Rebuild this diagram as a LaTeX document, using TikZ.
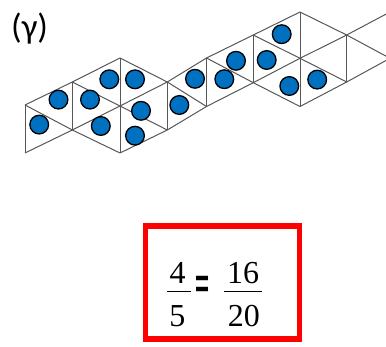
\documentclass[tikz,border=0pt]{standalone}
\usepackage{fontspec}
\setmainfont{Liberation Serif}
\newfontfamily\labelfont{Carlito}
\newfontfamily\signfont{Liberation Sans}
\usepackage{tikz}
\usetikzlibrary{positioning}
\definecolor{dotblue}{RGB}{0,112,192}
\definecolor{framered}{RGB}{255,0,0}

\begin{document}
\begin{tikzpicture}[
    x=1pt, y=-1pt,
    edge/.style={draw=black!66, line width=1pt, line join=round},
    counter/.style={circle, draw=black, line width=1.3pt, fill=dotblue, minimum size=18.7pt, inner sep=0pt},
    digit/.style={anchor=base, inner sep=0pt, font=\fontsize{32}{38}\selectfont},
    sign/.style={inner sep=0pt, font=\signfont\bfseries\fontsize{24}{28}\selectfont},
    bar/.style={line width=0.9pt},
    redframe/.style={draw=framered, line width=5.5pt}
]
\useasboundingbox (0,0) rectangle (386,347);
\clip (0,0) rectangle (386,347);

\foreach \n/\px/\py in {p0a/25/105, p0b/25/153,
    p1a/72.3/82, p1b/72.3/130,
    p2a/120/58, p2b/120/106, p2c/120/153,
    p3a/167.3/82, p3b/167.3/130,
    p4a/206.5/58, p4b/206.5/106.5,
    p5a/253.3/35, p5b/253.3/82.7,
    p6a/300/12, p6b/300/58.3, p6c/300/106.5,
    p7a/346.7/35, p7b/346.7/82,
    p8a/390/12, p8b/390/58.3}
  \coordinate (\n) at (\px,\py);

\draw[edge] (p0a) -- (p1a) -- (p2a) -- (p3a) -- (p4a) -- (p5a) -- (p6a) -- (p7a) -- (p8a);
\draw[edge] (p0b) -- (p1b) -- (p2c) -- (p3b) -- (p4b) -- (p5b) -- (p6c) -- (p7b) -- (p8b);
\draw[edge] (p0a) -- (p1b) -- (p2b) -- (p3b);
\draw[edge] (p1a) -- (p2b) -- (p3a) -- (p4b);
\draw[edge] (p4a) -- (p5b) -- (p6b) -- (p7a) -- (p8b);
\draw[edge] (p5a) -- (p6b) -- (p7b);
\foreach \t/\b in {p0a/p0b, p1a/p1b, p2a/p2c, p3a/p3b, p4a/p4b, p5a/p5b, p6a/p6c, p7a/p7b}
  \draw[edge] (\t) -- (\b);

\foreach \px/\py [count=\i] in {39.2/124.6, 58.5/99.6, 90/99.6, 109.3/79.3, 135/79.3,
    100.8/126, 141/110.8, 135/135.7, 179.3/105, 195/78.8, 224.3/79.2,
    236/60.8, 266.7/60, 281.7/34.2, 289.3/86, 317.2/79.6}
  \node[counter] (c\i) at (\px,\py) {};

\node[font=\labelfont\fontsize{35}{42}\selectfont, anchor=base west, inner sep=0pt] (tag) at (11,38.5) {(γ)};

\draw[redframe] (145.5,226) rectangle (299.5,339);

\node[digit] (num1) at (177.5,283.3) {4};
\node[digit] (den1) at (177.3,326.7) {5};
\node[digit] (num2) at (243,283.3) {16};
\node[digit] (den2) at (243.8,326.7) {20};
\draw[bar] (167.3,291.7) -- (190.7,291.7);
\draw[bar] (224,291.7) -- (261.7,291.7);
\node[sign] (eq) at (202.2,287) {\scalebox{1}[1.7]{=}};
\end{tikzpicture}
\end{document}
